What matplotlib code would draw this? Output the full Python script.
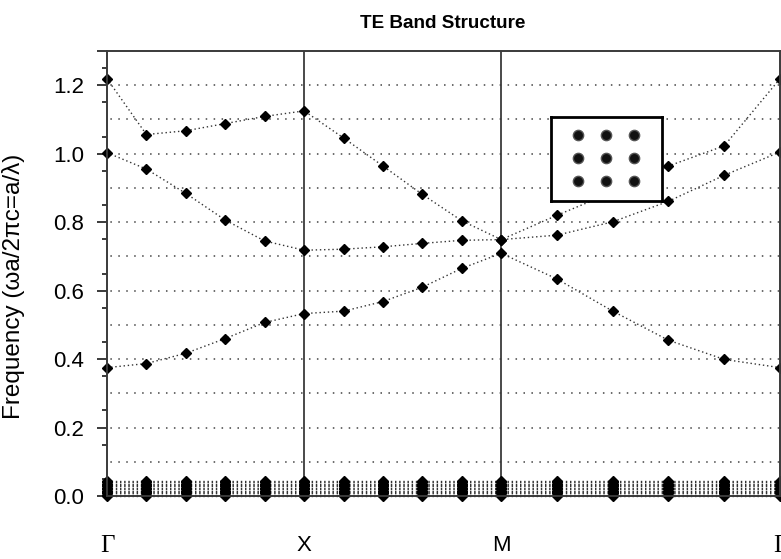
import numpy as np
import matplotlib
matplotlib.use("Agg")
import matplotlib.pyplot as plt

# ---------------- data ----------------
seg_labels = ["Γ", "X", "M", "Γ"]
seg_lengths = [1.0, 1.0, np.sqrt(2.0)]   # Γ-X, X-M, M-Γ in units of π/a
steps_per_seg = 5

band_low = [0.375, 0.387, 0.417, 0.460, 0.507, 0.533,
            0.540, 0.568, 0.610, 0.665, 0.709,
            0.634, 0.540, 0.455, 0.399, 0.375]
band_mid = [1.003, 0.955, 0.884, 0.806, 0.745, 0.718,
            0.721, 0.728, 0.738, 0.747, 0.749,
            0.762, 0.801, 0.861, 0.937, 1.005]
band_high = [1.219, 1.056, 1.067, 1.088, 1.109, 1.125,
             1.046, 0.964, 0.881, 0.804, 0.749,
             0.820, 0.888, 0.964, 1.023, 1.219]
# many nearly flat bands crowded just above zero frequency
flat_band_levels = [0.000, 0.004, 0.008, 0.012, 0.016, 0.020,
                    0.024, 0.028, 0.032, 0.036, 0.040, 0.044]

y_tick_values = [0.0, 0.2, 0.4, 0.6, 0.8, 1.0, 1.2]
y_tick_labels = ["0.0", "0.2", "0.4", "0.6", "0.8", "1.0", "1.2"]

lattice_x = [1, 2, 3, 1, 2, 3, 1, 2, 3]
lattice_y = [3, 3, 3, 2, 2, 2, 1, 1, 1]

# k-path positions
k = [0.0]
for L in seg_lengths:
    for i in range(steps_per_seg):
        k.append(k[-1] + L / steps_per_seg)
k = np.array(k)
node_k = np.concatenate([[0.0], np.cumsum(seg_lengths)])

# ---------------- figure ----------------
W, H = 781, 559
fig = plt.figure(figsize=(W / 100, H / 100), dpi=100)
ax = fig.add_axes([107 / W, 1 - 496 / H, 673 / W, 445 / H])

spine_col = "#3a3a3a"
ax.set_xlim(0, node_k[-1])
ax.set_ylim(0, 1.3)

# dotted horizontal grid every 0.1
for g in np.arange(0.1, 1.25, 0.1):
    ax.axhline(g, color="#444444", lw=1.1, linestyle=(3, (1, 4.2)), zorder=1)

# symmetry point verticals
for nk in node_k[1:-1]:
    ax.axvline(nk, color=spine_col, lw=1.3, zorder=2)

line_kw = dict(linestyle=(0, (1, 2)), color="#333333", lw=1.0,
               marker="D", ms=5.4, mfc="black", mec="black", zorder=4, clip_on=False)

for lev in flat_band_levels:
    ax.plot(k, [lev] * len(k), **line_kw)
for band in (band_low, band_mid, band_high):
    ax.plot(k, band, **line_kw)

# spines
for s in ax.spines.values():
    s.set_color(spine_col)
    s.set_linewidth(1.4)
    s.set_zorder(5)

# y ticks
ax.set_yticks(y_tick_values + [1.3])
ax.set_yticklabels(y_tick_labels + [""], fontsize=16, family="Liberation Sans")
ax.set_yticks(np.arange(0.05, 1.3, 0.1), minor=True)
ax.tick_params(axis="y", which="major", direction="out", length=7.2, width=1.4,
               color=spine_col, pad=9.5)
ax.tick_params(axis="y", which="minor", direction="out", length=3.8, width=1.4,
               color=spine_col)

# x ticks (symmetry labels)
ax.set_xticks(node_k)
ax.set_xticklabels(seg_labels)
ax.tick_params(axis="x", which="both", length=0, pad=28)
for lbl in ax.get_xticklabels():
    if lbl.get_text() == "Γ":
        lbl.set_family("Liberation Serif")
        lbl.set_fontsize(18)
    else:
        lbl.set_family("Liberation Sans")
        lbl.set_fontsize(16)

ax.set_ylabel("Frequency (ωa/2πc=a/λ)", fontsize=17.5, family="Liberation Sans")
ax.yaxis.set_label_coords(-0.122, 0.47)

fig.text(443 / W, 1 - 28 / H, "TE Band Structure", ha="center", va="baseline",
         fontsize=13.6, fontweight="bold", family="Liberation Sans")

# inset: square lattice schematic
ins = fig.add_axes([551 / W, 1 - 201 / H, 111 / W, 84 / H])
ins.set_facecolor("white")
ins.set_xlim(0.05, 4.0)
ins.set_ylim(0.1, 3.8)
ins.scatter(lattice_x, lattice_y, s=55, facecolor="#111111", edgecolor="#555555",
            linewidths=1.0, zorder=3)
ins.set_xticks([])
ins.set_yticks([])
for s in ins.spines.values():
    s.set_color("black")
    s.set_linewidth(2.0)

fig.savefig("out.png", dpi=100)
